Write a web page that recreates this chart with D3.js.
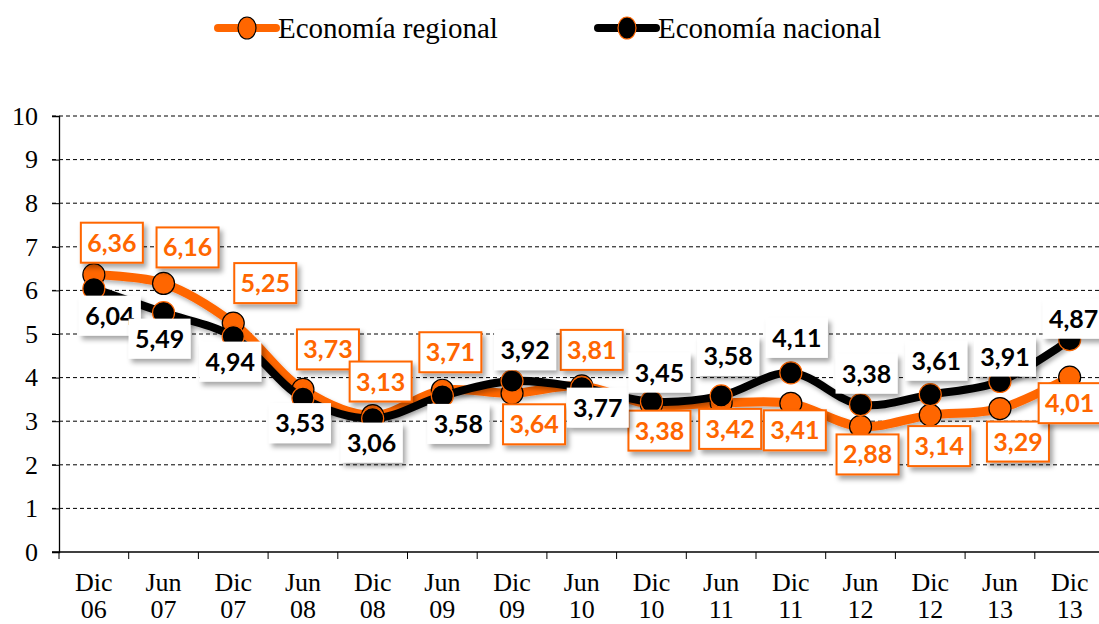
<!DOCTYPE html>
<html>
<head>
<meta charset="utf-8">
<script src="https://cdn.jsdelivr.net/npm/d3@7"></script>
<style>
  body { margin: 0; background: #fff; }
  svg { display: block; }
</style>
</head>
<body>
<script>
const width = 1099
const height = 624

// data
const months = ['Dic', 'Jun', 'Dic', 'Jun', 'Dic', 'Jun', 'Dic', 'Jun', 'Dic', 'Jun', 'Dic', 'Jun', 'Dic', 'Jun', 'Dic']
const years = ['06', '07', '07', '08', '08', '09', '09', '10', '10', '11', '11', '12', '12', '13', '13']
const regional = [6.36, 6.16, 5.25, 3.73, 3.13, 3.71, 3.64, 3.81, 3.38, 3.42, 3.41, 2.88, 3.14, 3.29, 4.01]
const nacional = [6.04, 5.49, 4.94, 3.53, 3.06, 3.58, 3.92, 3.77, 3.45, 3.58, 4.11, 3.38, 3.61, 3.91, 4.87]
const yTicks = [0, 1, 2, 3, 4, 5, 6, 7, 8, 9, 10]

// label offsets from each point (layout only)
const regionalOff = [[18,-32],[24,-36],[32,-40],[25,-40],[8,-34],[8,-38],[22,31],[10,-36],[8,26],[9,26],[4,27],[7,28],[9,31],[18,33],[0,26]]
const nacionalOff = [[16,27],[-4,26],[-3,25],[-3,25],[-1,24],[16,28],[13,-31],[16,20],[8,-29],[7,-40],[6,-35],[6,-31],[6,-34],[5,-25],[4,-21]]

const orange = '#ff6600'
const serif = '"Liberation Serif", "Times New Roman", serif'

const svg = d3.select('body').append('svg')
    .attr('width', width)
    .attr('height', height)

const defs = svg.append('defs')
const f = defs.append('filter').attr('id', 'shadow')
    .attr('x', '-30%').attr('y', '-30%').attr('width', '170%').attr('height', '170%')
f.append('feDropShadow')
    .attr('dx', 3).attr('dy', 4).attr('stdDeviation', 2.5)
    .attr('flood-color', '#000').attr('flood-opacity', 0.35)

const lf = defs.append('filter').attr('id', 'lshadow')
    .attr('x', '-10%').attr('y', '-10%').attr('width', '120%').attr('height', '130%')
lf.append('feDropShadow')
    .attr('dx', 2).attr('dy', 3).attr('stdDeviation', 2)
    .attr('flood-color', '#000').attr('flood-opacity', 0.3)

const x = d3.scaleBand()
    .domain(d3.range(months.length))
    .range([59, 59 + 15 * 69.7])

const y = d3.scaleLinear()
    .domain([0, 10])
    .range([552, 116])

const cx = i => x(i) + x.bandwidth() / 2

// gridlines
svg.append('g')
    .selectAll('line')
    .data(yTicks.filter(d => d > 0))
    .join('line')
    .attr('x1', 52)
    .attr('x2', width)
    .attr('y1', d => y(d))
    .attr('y2', d => y(d))
    .style('stroke', '#000')
    .style('stroke-width', 1)
    .style('stroke-dasharray', '4,3')

// y axis
const yAxis = svg.append('g')
    .attr('transform', 'translate(59,0)')
    .call(d3.axisLeft(y).tickValues(yTicks).tickSize(7).tickPadding(14))
yAxis.select('.domain').attr('stroke', '#000').attr('stroke-width', 1.3)
yAxis.selectAll('.tick line').attr('stroke', '#000')
yAxis.selectAll('text')
    .style('font-family', serif)
    .style('font-size', '26px')
    .attr('fill', '#000')

// x axis
const xAxis = svg.append('g')
    .attr('transform', 'translate(0,552)')
xAxis.append('line')
    .attr('x1', 52).attr('x2', width)
    .attr('y1', 0).attr('y2', 0)
    .style('stroke', '#000').style('stroke-width', 1.3)
xAxis.selectAll('.xt')
    .data(d3.range(months.length + 1))
    .join('line')
    .attr('class', 'xt')
    .attr('x1', d => 59 + d * x.step())
    .attr('x2', d => 59 + d * x.step())
    .attr('y1', 0).attr('y2', 7)
    .style('stroke', '#000')
const xl = xAxis.selectAll('.xl')
    .data(months)
    .join('text')
    .attr('class', 'xl')
    .attr('text-anchor', 'middle')
    .style('font-family', serif)
    .style('font-size', '26px')
xl.append('tspan').attr('x', (d, i) => cx(i)).attr('y', 39).text(d => d)
xl.append('tspan').attr('x', (d, i) => cx(i)).attr('y', 66).text((d, i) => years[i])

// lines
const line = d3.line()
    .x((d, i) => cx(i))
    .y(d => y(d))
    .curve(d3.curveCatmullRom.alpha(0.5))

svg.append('path')
    .datum(regional)
    .attr('d', line)
    .attr('fill', 'none')
    .attr('stroke', orange)
    .attr('stroke-width', 9)
    .attr('filter', 'url(#lshadow)')

svg.append('g')
    .selectAll('circle')
    .data(regional)
    .join('circle')
    .attr('cx', (d, i) => cx(i))
    .attr('cy', d => y(d))
    .attr('r', 11)
    .attr('fill', orange)
    .attr('stroke', '#000')
    .attr('stroke-width', 1.2)

svg.append('path')
    .datum(nacional)
    .attr('d', line)
    .attr('fill', 'none')
    .attr('stroke', '#000')
    .attr('stroke-width', 8)
    .attr('filter', 'url(#lshadow)')

svg.append('g')
    .selectAll('circle')
    .data(nacional)
    .join('circle')
    .attr('cx', (d, i) => cx(i))
    .attr('cy', d => y(d))
    .attr('r', 11)
    .attr('fill', '#000')
    .attr('stroke', orange)
    .attr('stroke-width', 1.2)

// data labels
const fmt = v => v.toFixed(2).replace('.', ',')

function labels(values, offs, color, border) {
    const g = svg.append('g')
    const lab = g.selectAll('g')
        .data(values)
        .join('g')
        .attr('transform', (d, i) => `translate(${cx(i) + offs[i][0]},${y(d) + offs[i][1]})`)
    lab.append('rect')
        .attr('x', -31).attr('y', -20)
        .attr('width', 62).attr('height', 40)
        .attr('fill', '#fff')
        .attr('stroke', border ? color : 'none')
        .attr('stroke-width', 2)
        .attr('filter', 'url(#shadow)')
    lab.append('text')
        .attr('text-anchor', 'middle')
        .attr('dy', '0.36em')
        .style('font-family', 'Lato, "Open Sans", sans-serif')
        .style('font-weight', 'bold')
        .style('font-size', '25px')
        .attr('fill', color)
        .text(d => fmt(d))
}
labels(regional, regionalOff, orange, true)
labels(nacional, nacionalOff, '#000', false)

// legend
const legend = [
    {name: 'Economía regional', line: orange, fill: orange, stroke: '#000', x: 218},
    {name: 'Economía nacional', line: '#000', fill: '#000', stroke: orange, x: 598}
]
const lg = svg.append('g').selectAll('g')
    .data(legend)
    .join('g')
    .attr('transform', d => `translate(${d.x},28)`)
lg.append('line')
    .attr('x1', 0).attr('x2', 58)
    .attr('y1', 0).attr('y2', 0)
    .attr('stroke', d => d.line)
    .attr('stroke-width', 8)
    .attr('stroke-linecap', 'round')
lg.append('ellipse')
    .attr('cx', 29).attr('cy', 0)
    .attr('rx', 9).attr('ry', 11)
    .attr('fill', d => d.fill)
    .attr('stroke', d => d.stroke)
    .attr('stroke-width', 1.2)
lg.append('text')
    .attr('x', 60)
    .attr('dy', '0.35em')
    .style('font-family', serif)
    .style('font-size', '29px')
    .text(d => d.name)
</script>
</body>
</html>
